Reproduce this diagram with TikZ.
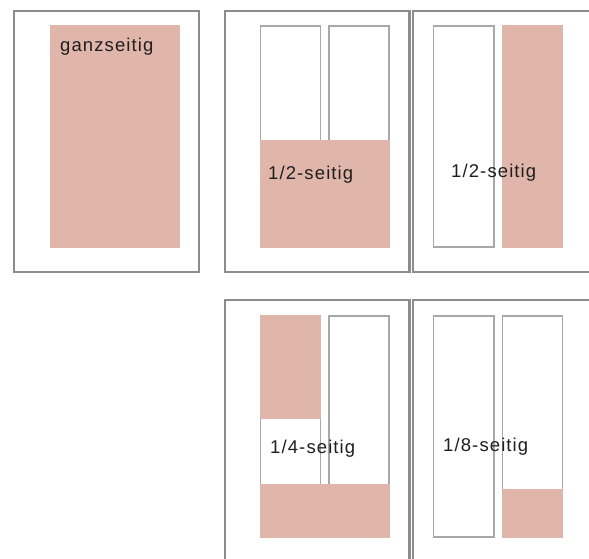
\documentclass[tikz,border=0pt]{standalone}
\usepackage{fontspec}
\setmainfont{Liberation Sans}[LetterSpace=6]
\definecolor{pinkfill}{RGB}{224,181,170}
\definecolor{framegray}{RGB}{140,140,140}
\definecolor{colgray}{RGB}{168,168,168}
\begin{document}
\begin{tikzpicture}[x=1pt,y=-1pt,
  panelframe/.style={draw=framegray,line width=2.4pt},
  colbox/.style={draw=colgray,line width=1.1pt,fill=white},
  adbox/.style={fill=pinkfill},
  lbl/.style={anchor=base west,inner sep=0pt,font=\fontsize{18.5}{20}\selectfont,text=black!88}]
\useasboundingbox (0,0) rectangle (589,559);
\fill[white] (0,0) rectangle (589,559);
\begin{scope}
\clip (0,0) rectangle (589,559);
% panel frames
\draw[panelframe] (14,11) rectangle (199,272);
\draw[panelframe] (225,11) rectangle (409.5,272);
\draw[panelframe] (413,11) rectangle (620,272);
\draw[panelframe] (225,300) rectangle (409.5,600);
\draw[panelframe] (413,300) rectangle (620,600);
% panel 1
\fill[adbox] (50,25) rectangle (180,248);
\node[lbl] (t1) at (60,52) {ganzseitig};
% panel 2
\draw[colbox] (260.5,26) rectangle (320.5,160);
\draw[colbox] (329,26) rectangle (389,160);
\fill[adbox] (260,140) rectangle (390,248);
\node[lbl] (t2) at (268,179) {1/2-seitig};
% panel 3
\draw[colbox] (433.5,26) rectangle (494,247);
\fill[adbox] (502,25) rectangle (563,248);
\node[lbl] (t3) at (451,178) {1/2-seitig};
% panel 4
\draw[colbox] (260.5,316) rectangle (320.5,500);
\draw[colbox] (329,316) rectangle (389,500);
\fill[adbox] (260,315) rectangle (321,419);
\fill[adbox] (260,484) rectangle (390,538);
\node[lbl] (t4) at (270,453) {1/4-seitig};
% panel 5
\draw[colbox] (433.5,316) rectangle (494,537);
\draw[colbox] (502.5,316) rectangle (562.5,537);
\fill[adbox] (502,489) rectangle (563,538);
\node[lbl] (t5) at (443,451) {1/8-seitig};
\end{scope}
\end{tikzpicture}
\end{document}
